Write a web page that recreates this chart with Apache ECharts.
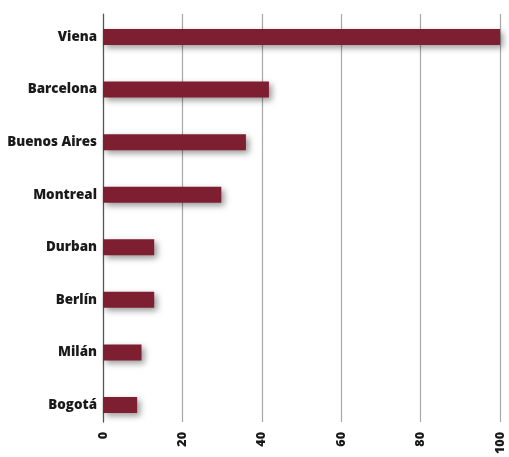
<!DOCTYPE html>
<html><head><meta charset="utf-8">
<script src="https://cdn.jsdelivr.net/npm/echarts@6/dist/echarts.min.js"></script>
<style>html,body{margin:0;padding:0;background:#fff}#c{width:509px;height:457px}</style>
</head><body><div id="c"></div>
<script>
const categories = ["Viena","Barcelona","Buenos Aires","Montreal","Durban","Berlín","Milán","Bogotá"];
const values = [100, 41.8, 36, 29.8, 12.9, 12.9, 9.7, 8.6];
const xTicks = [0, 20, 40, 60, 80, 100];

const chart = echarts.init(document.getElementById('c'));
const labelFont = {fontFamily: 'Open Sans', fontWeight: 800, color: '#1a1a1a'};
chart.setOption({
  animation: false,
  grid: [
    {left: 103, right: 9, top: 10.7, height: 420.6},
    {left: 103, right: 9, top: 14, height: 409}
  ],
  xAxis: [
    {gridIndex: 0, type: 'value', min: 0, max: 100, show: false},
    {gridIndex: 1, type: 'value', min: xTicks[0], max: xTicks[xTicks.length-1], interval: 20,
     axisLine: {show: false}, axisTick: {show: false},
     splitLine: {show: true, lineStyle: {color: '#a8a8a8', width: 1.2}},
     axisLabel: Object.assign({rotate: 90, fontSize: 12.5, margin: 10}, labelFont)}
  ],
  yAxis: [
    {gridIndex: 0, type: 'category', data: categories, inverse: true,
     axisLine: {show: false}, axisTick: {show: false},
     axisLabel: Object.assign({fontSize: 13.4, margin: 6}, labelFont)},
    {gridIndex: 1, type: 'value', min: 0, max: 1, show: true,
     axisLine: {show: true, lineStyle: {color: '#555', width: 1.2}},
     axisTick: {show: false}, axisLabel: {show: false}, splitLine: {show: false}}
  ],
  series: [{
    type: 'bar', xAxisIndex: 0, yAxisIndex: 0, data: values, barWidth: 16,
    itemStyle: {color: '#7e1f31', shadowColor: 'rgba(0,0,0,0.4)', shadowBlur: 6, shadowOffsetX: 3, shadowOffsetY: 3}
  }]
});
</script></body></html>
